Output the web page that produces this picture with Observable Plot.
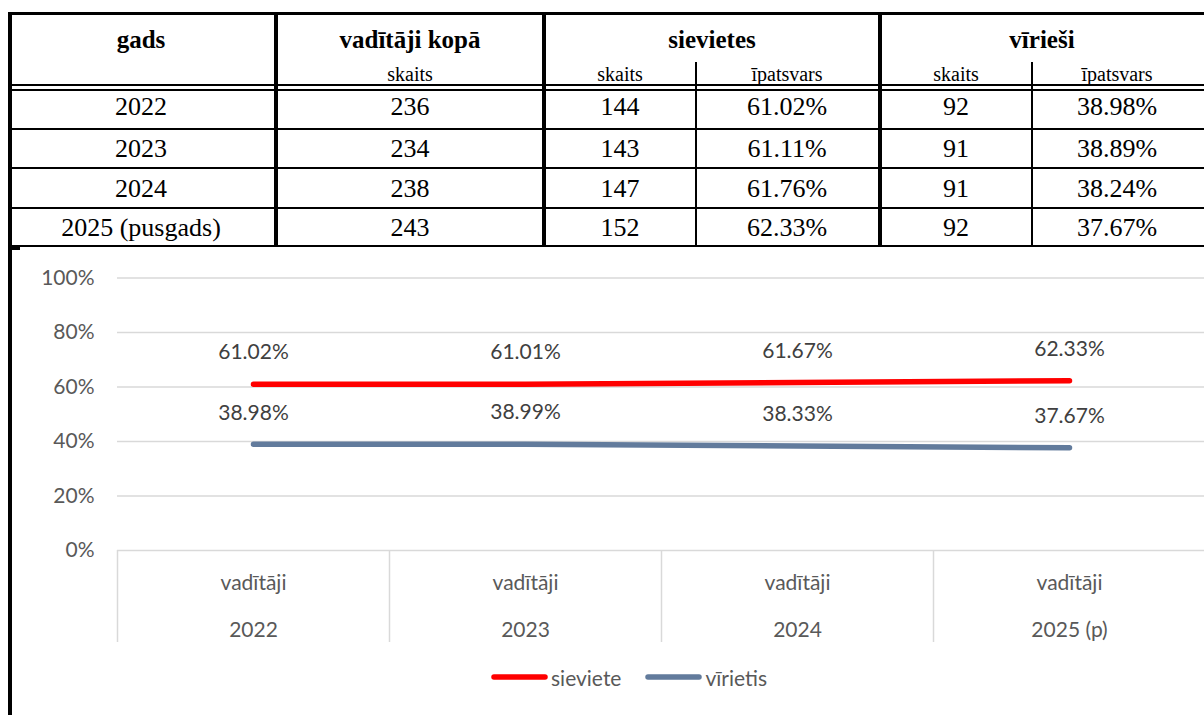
<!DOCTYPE html>
<html><head><meta charset="utf-8">
<script src="https://cdn.jsdelivr.net/npm/d3@7"></script>
<script src="https://cdn.jsdelivr.net/npm/@observablehq/plot@0.6"></script>
<style>
html,body{margin:0;padding:0;background:#fff;}
#page{position:relative;width:1204px;height:715px;overflow:hidden;background:#fff;}
.ln{position:absolute;background:#000;}
.t{position:absolute;white-space:nowrap;text-align:center;color:#000;font-family:"Liberation Serif","Times New Roman",serif;}
#chart{position:absolute;left:0;top:250px;}
#legend{position:absolute;top:659px;left:491px;height:36px;display:flex;align-items:center;font-family:Lato,"Open Sans",sans-serif;font-size:21px;color:#595959;}
#legend .item{display:flex;align-items:center;margin-right:24px;}
#legend svg{margin-right:3px;}
</style></head><body><div id="page"></div>
<script>
// ---- table data ----
const years = ["2022", "2023", "2024", "2025 (pusgads)"];
const totalCount = [236, 234, 238, 243];
const womenCount = [144, 143, 147, 152];
const womenShare = ["61.02%", "61.11%", "61.76%", "62.33%"];
const menCount = [92, 91, 91, 92];
const menShare = ["38.98%", "38.89%", "38.24%", "37.67%"];
const headers = ["gads", "vadītāji kopā", "sievietes", "vīrieši"];
const subHeaders = ["skaits", "skaits", "īpatsvars", "skaits", "īpatsvars"];

// ---- chart data ----
const categories = ["2022", "2023", "2024", "2025 (p)"];
const categoryPrefix = "vadītāji";
const seriesNames = ["sieviete", "vīrietis"];
const womenPct = [61.02, 61.01, 61.67, 62.33];
const menPct = [38.98, 38.99, 38.33, 37.67];
const yTicks = [0, 20, 40, 60, 80, 100];

const page = document.getElementById("page");

// ---- table (layout) ----
function line(l, t, w, h) {
  const d = document.createElement("div");
  d.className = "ln";
  d.style.cssText = `left:${l}px;top:${t}px;width:${w}px;height:${h}px;`;
  page.appendChild(d);
}
function txt(s, cx, top, size, weight) {
  const d = document.createElement("div");
  d.className = "t";
  d.textContent = s;
  d.style.cssText = `left:${cx - 200}px;width:400px;top:${top}px;font-size:${size}px;line-height:${size}px;font-weight:${weight || "normal"};`;
  page.appendChild(d);
}
[[8,12,1196,3],[8,12,4,703],[274,12,4,235],[542,12,4,235],[878,12,4,235],
 [695,62,2,185],[1031,62,2,185],[8,84,1196,2],[8,89,1196,2],
 [8,128,1196,2],[8,167,1196,2],[8,207,1196,2],[8,245,1196,2],[8,245,12,5]]
  .forEach(a => line(...a));

const headCenters = [141, 410, 712, 1042];
headers.forEach((h, i) => txt(h, headCenters[i], 27, 25, "bold"));
const colCenters = [410, 620, 787, 956, 1117];
subHeaders.forEach((h, i) => txt(h, colCenters[i], 64, 20));
const rowTops = [93.5, 135.5, 175.5, 214.5];
const bodyCenters = [141, 410, 620, 787, 956, 1117];
years.forEach((y, r) => {
  const vals = [y, totalCount[r], womenCount[r], womenShare[r], menCount[r], menShare[r]];
  vals.forEach((v, c) => txt(String(v), bodyCenters[c], rowTops[r], 26));
});

// ---- chart ----
const xRange = [117, 1205];
const step = (xRange[1] - xRange[0]) / categories.length;
const colors = ["#ff0000", "#627b9c"];
const data = categories.flatMap((c, i) => [
  {cat: c, s: seriesNames[0], v: womenPct[i]},
  {cat: c, s: seriesNames[1], v: menPct[i]}
]);

const chart = Plot.plot({
  width: 1204, height: 400,
  marginTop: 27.5, marginBottom: 100, marginLeft: 117, marginRight: 0,
  style: {fontFamily: "Lato, 'Open Sans', sans-serif", fontSize: "21px", background: "transparent", overflow: "visible"},
  x: {type: "point", domain: categories, range: xRange, padding: 0.5, label: null},
  y: {domain: [0, 100], label: null},
  color: {domain: seriesNames, range: colors},
  marks: [
    Plot.ruleY(yTicks, {stroke: "#d9d9d9", strokeWidth: 1.5}),
    Plot.ruleX(categories, {x: d => d, dx: -step / 2, y1: 0, insetBottom: -92, stroke: "#d9d9d9", strokeWidth: 1.5}),
    Plot.axisY(yTicks, {tickSize: 0, tickPadding: 23, tickFormat: d => d + "%", fill: "#595959", fontSize: 21}),
    Plot.axisX(categories, {tickSize: 0, tickPadding: 7, tickFormat: d => categoryPrefix + "\n" + d, lineHeight: 2.2, fill: "#595959", fontSize: 21}),
    Plot.line(data, {x: "cat", y: "v", z: "s", stroke: "s", strokeWidth: 5.5, strokeLinecap: "round"}),
    Plot.text(data, {x: "cat", y: "v", text: d => d.v.toFixed(2) + "%", dy: -31.5, fill: "#404040", fontSize: 21})
  ]
});
chart.id = "chart";
page.appendChild(chart);

// ---- legend ----
const legend = document.createElement("div");
legend.id = "legend";
seriesNames.forEach((name, i) => {
  const item = document.createElement("div");
  item.className = "item";
  item.innerHTML = `<svg width="57" height="8"><line x1="3" y1="4" x2="54" y2="4" stroke="${colors[i]}" stroke-width="5.5" stroke-linecap="round"/></svg><span>${name}</span>`;
  legend.appendChild(item);
});
page.appendChild(legend);
</script>
</body></html>
